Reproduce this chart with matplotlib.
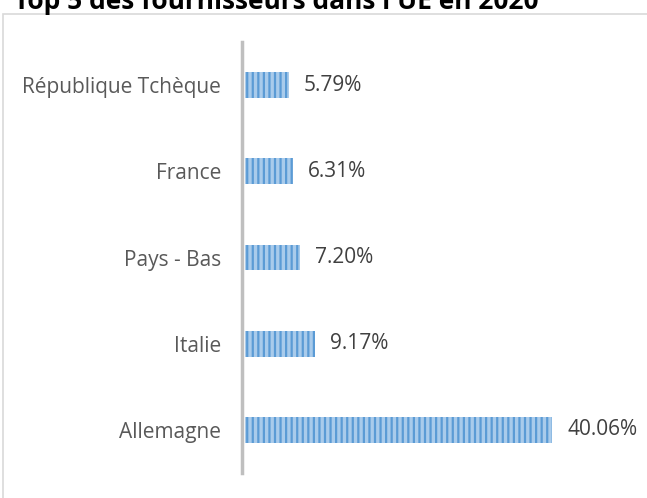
import matplotlib.pyplot as plt
from matplotlib.patches import Rectangle

categories = ['Allemagne', 'Italie', 'Pays - Bas', 'France', 'République Tchèque']
values = [40.06, 9.17, 7.20, 6.31, 5.79]
title = "Top 5 des fournisseurs dans l'UE en 2020"

plt.rcParams['font.family'] = ['Open Sans', 'DejaVu Sans']
plt.rcParams['hatch.linewidth'] = 1.6

fig = plt.figure(figsize=(6.47, 4.98), dpi=100)
fig.patches.append(Rectangle((3 / 647, -0.05), 1.1, 1 - 14 / 498 + 0.05, transform=fig.transFigure,
                             fill=False, edgecolor='#D9D9D9', linewidth=1.2))
# title is clipped by the top edge, as in the source image
fig.text(14 / 647, 1 - 9 / 498, title, fontsize=19, fontweight='bold', color='#000000',
         ha='left', va='baseline')

ax = fig.add_axes([242 / 647, 25 / 498, 398 / 647, 431 / 498])
y = range(len(categories))
ax.barh(y, values, height=0.30, left=0.35, color='#A9CBEB', edgecolor='#5B9BD5',
        hatch='|||', linewidth=0)
for yi, v in zip(y, values):
    ax.text(v + 0.35 + 1.9, yi, f'{v:.2f}%', va='center', ha='left', fontsize=15, color='#404040')

ax.set_xlim(0, 51.8)
ax.set_ylim(-0.5, 4.5)
ax.set_yticks(list(y))
ax.set_yticklabels(categories, fontsize=15, color='#595959')
ax.tick_params(axis='y', length=0, pad=15)
ax.set_xticks([])
for s in ['top', 'right', 'bottom']:
    ax.spines[s].set_visible(False)
ax.spines['left'].set_color('#BFBFBF')
ax.spines['left'].set_linewidth(2.5)
ax.patch.set_alpha(0)

fig.savefig('out.png', dpi=100)
